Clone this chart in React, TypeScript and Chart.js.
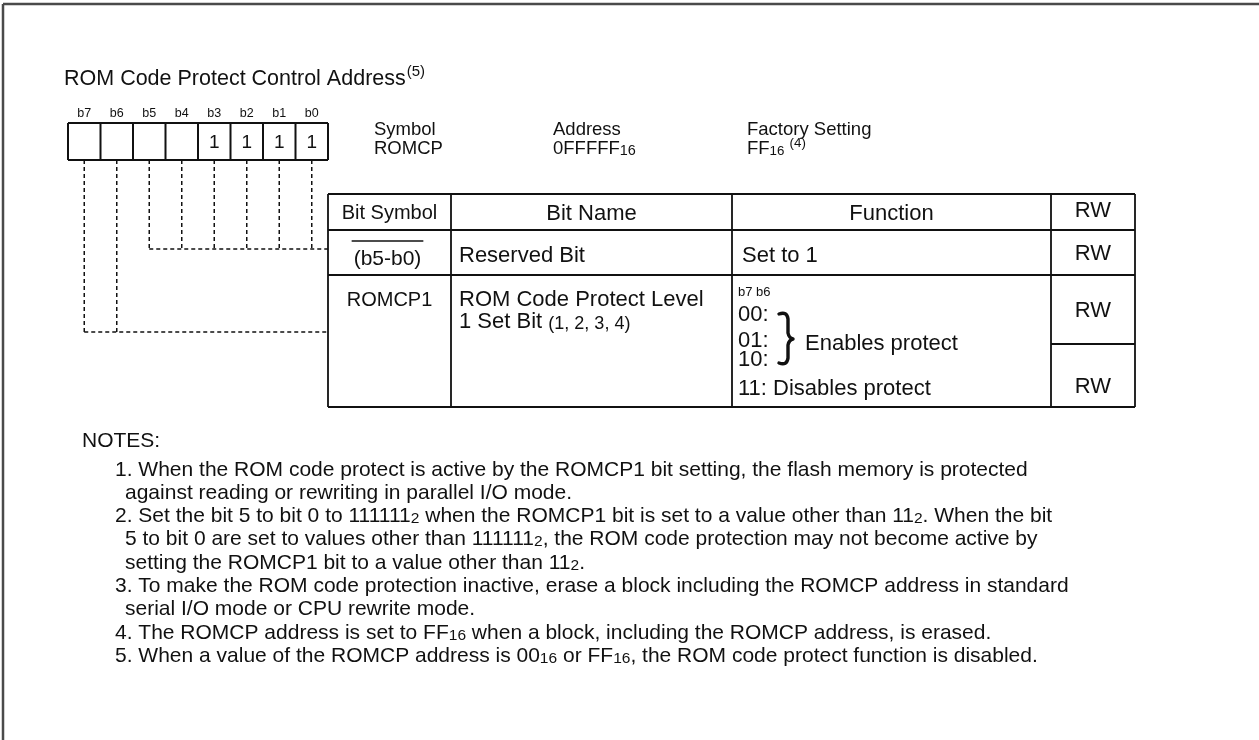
import React, { useEffect, useRef } from "react";
import { Chart, registerables } from "chart.js";

Chart.register(...registerables);

// ---------------- data ----------------
const titleText = "ROM Code Protect Control Address";
const titleNote = "(5)";
const bitLabels = ["b7", "b6", "b5", "b4", "b3", "b2", "b1", "b0"];
const bitValues = ["", "", "", "", "1", "1", "1", "1"];
const infoLabels = ["Symbol", "Address", "Factory Setting"];
const infoValues = ["ROMCP", "0FFFFF_{16}", "FF_{16} ^{(4)}"];
const tableHeaders = ["Bit Symbol", "Bit Name", "Function", "RW"];
const reservedRow = ["(b5-b0)", "Reserved Bit", "Set to 1", "RW"];
const reservedBits = ["b5", "b4", "b3", "b2", "b1", "b0"];
const romcp1Symbol = "ROMCP1";
const romcp1Name = ["ROM Code Protect Level", "1 Set Bit _{(1, 2, 3, 4)}"];
const romcp1Bits = ["b7", "b6"];
const romcp1Header = "b7 b6";
const romcp1Codes = ["00:", "01:", "10:", "11: Disables protect"];
const romcp1Enable = "Enables protect";
const romcp1RW = ["RW", "RW"];
const notesTitle = "NOTES:";
const notes = [
  [
    "1. When the ROM code protect is active by the ROMCP1 bit setting, the flash memory is protected",
    "against reading or rewriting in parallel I/O mode.",
  ],
  [
    "2. Set the bit 5 to bit 0 to 111111_{2} when the ROMCP1 bit is set to a value other than 11_{2}. When the bit",
    "5 to bit 0 are set to values other than 111111_{2}, the ROM code protection may not become active by",
    "setting the ROMCP1 bit to a value other than 11_{2}.",
  ],
  [
    "3. To make the ROM code protection inactive, erase a block including the ROMCP address in standard",
    "serial I/O mode or CPU rewrite mode.",
  ],
  ["4. The ROMCP address is set to FF_{16} when a block, including the ROMCP address, is erased."],
  ["5. When a value of the ROMCP address is 00_{16} or FF_{16}, the ROM code protect function is disabled."],
];

// ---------------- layout ----------------
const W = 1259;
const H = 740;
const FONT = '"Liberation Sans", Arial, sans-serif';
const L = {
  border: { x: 3, y: 4 },
  title: { x: 64, y: 77, size: 21.5, noteSize: 15 },
  box: { x0: 68, x1: 328, y0: 123, y1: 160, labelY: 112, labelSize: 12.5, valueSize: 19 },
  info: { xs: [374, 553, 747], y1: 128, y2: 147, size: 18.5 },
  cols: [328, 451, 732, 1051, 1135],
  rows: [194, 230, 275, 407],
  rwSplit: 344,
  dashY: { reserved: 249, romcp1: 332 },
  textSize: 22,
  symSize: 20,
  notes: { titleX: 82, titleY: 439, x: 115, contX: 125, y0: 468, lh: 23.3, size: 21 },
};

type Seg = [number, number, number, number, string, number, number[]];

function buildSegments(): Seg[] {
  const segs: Seg[] = [];
  const solid = "#111";
  // outer frame
  segs.push([L.border.x, L.border.y, W, L.border.y, "#4a4a4a", 2.5, []]);
  segs.push([L.border.x, L.border.y, L.border.x, H, "#4a4a4a", 2.5, []]);
  // bit box
  const b = L.box;
  const cw = (b.x1 - b.x0) / bitLabels.length;
  segs.push([b.x0, b.y0, b.x1, b.y0, solid, 2, []]);
  segs.push([b.x0, b.y1, b.x1, b.y1, solid, 2, []]);
  for (let i = 0; i <= bitLabels.length; i++) {
    segs.push([b.x0 + i * cw, b.y0, b.x0 + i * cw, b.y1, solid, 2, []]);
  }
  // table
  const c = L.cols;
  const r = L.rows;
  r.forEach((y) => segs.push([c[0], y, c[c.length - 1], y, solid, 1.8, []]));
  c.forEach((x) => segs.push([x, r[0], x, r[r.length - 1], solid, 1.8, []]));
  segs.push([c[3], L.rwSplit, c[4], L.rwSplit, solid, 1.8, []]);
  // dashed connectors
  const cx = (name: string) => b.x0 + (bitLabels.indexOf(name) + 0.5) * cw;
  const dash = [4, 3];
  reservedBits.forEach((n) => segs.push([cx(n), b.y1, cx(n), L.dashY.reserved, solid, 1.5, dash]));
  segs.push([cx(reservedBits[0]), L.dashY.reserved, c[0], L.dashY.reserved, solid, 1.5, dash]);
  romcp1Bits.forEach((n) => segs.push([cx(n), b.y1, cx(n), L.dashY.romcp1, solid, 1.5, dash]));
  segs.push([cx(romcp1Bits[0]), L.dashY.romcp1, c[0], L.dashY.romcp1, solid, 1.5, dash]);
  return segs;
}

// rich text: _{..} smaller at baseline, ^{..} smaller raised
type Piece = { t: string; k: "n" | "s" | "p" };
function parseRich(s: string): Piece[] {
  const out: Piece[] = [];
  const re = /([_^])\{([^}]*)\}/g;
  let last = 0;
  let m: RegExpExecArray | null;
  while ((m = re.exec(s))) {
    if (m.index > last) out.push({ t: s.slice(last, m.index), k: "n" });
    out.push({ t: m[2], k: m[1] === "_" ? "s" : "p" });
    last = re.lastIndex;
  }
  if (last < s.length) out.push({ t: s.slice(last), k: "n" });
  return out;
}

function drawRich(
  ctx: CanvasRenderingContext2D,
  s: string,
  x: number,
  cy: number,
  size: number,
  align: "left" | "center" = "left",
  small = 0.76
) {
  const pieces = parseRich(s);
  const fontFor = (k: string) => `${k === "n" ? size : size * small}px ${FONT}`;
  let total = 0;
  pieces.forEach((p) => {
    ctx.font = fontFor(p.k);
    total += ctx.measureText(p.t).width;
  });
  let px = align === "center" ? x - total / 2 : x;
  const base = cy + size * 0.36;
  ctx.textAlign = "left";
  ctx.textBaseline = "alphabetic";
  pieces.forEach((p) => {
    ctx.font = fontFor(p.k);
    const dy = p.k === "s" ? 1 : p.k === "p" ? -size * 0.38 : 0;
    ctx.fillText(p.t, px, base + dy);
    px += ctx.measureText(p.t).width;
  });
}

const textPlugin = {
  id: "registerText",
  afterDatasetsDraw(chart: any) {
    const ctx: CanvasRenderingContext2D = chart.ctx;
    const sx = (v: number) => chart.scales.x.getPixelForValue(v);
    const sy = (v: number) => chart.scales.y.getPixelForValue(v);
    ctx.save();
    ctx.fillStyle = "#111";
    // title
    ctx.font = `${L.title.size}px ${FONT}`;
    const tw = ctx.measureText(titleText).width;
    drawRich(ctx, titleText, sx(L.title.x), sy(L.title.y), L.title.size);
    ctx.font = `${L.title.noteSize}px ${FONT}`;
    ctx.textBaseline = "alphabetic";
    ctx.fillText(titleNote, sx(L.title.x) + tw + 1, sy(L.title.y) + L.title.size * 0.36 - L.title.size * 0.42);

    // bit labels & values
    const b = L.box;
    const cw = (b.x1 - b.x0) / bitLabels.length;
    bitLabels.forEach((lab, i) => {
      const cx = sx(b.x0 + (i + 0.5) * cw);
      drawRich(ctx, lab, cx, sy(b.labelY), b.labelSize, "center");
      if (bitValues[i]) drawRich(ctx, bitValues[i], cx, sy((b.y0 + b.y1) / 2), b.valueSize, "center");
    });

    // info
    infoLabels.forEach((lab, i) => {
      drawRich(ctx, lab, sx(L.info.xs[i]), sy(L.info.y1), L.info.size);
      drawRich(ctx, infoValues[i], sx(L.info.xs[i]), sy(L.info.y2), L.info.size, "left", i === 2 ? 0.72 : 0.78);
    });

    // table header
    const c = L.cols;
    const r = L.rows;
    const ts = L.textSize;
    const ss = L.symSize;
    tableHeaders.forEach((h, i) => {
      drawRich(ctx, h, sx((c[i] + c[i + 1]) / 2), sy(i === 3 ? 209 : 212), i === 0 ? ss : ts, "center");
    });
    // reserved row
    const r1y = 254;
    const symX = (c[0] + c[1]) / 2 - 2;
    drawRich(ctx, reservedRow[0], sx(symX), sy(257), ss + 1, "center");
    ctx.font = `${ss + 1}px ${FONT}`;
    const ow = ctx.measureText(reservedRow[0]).width;
    ctx.strokeStyle = "#111";
    ctx.lineWidth = 1.4;
    ctx.beginPath();
    ctx.moveTo(sx(symX - ow / 2 - 2), sy(241));
    ctx.lineTo(sx(symX + ow / 2 + 2), sy(241));
    ctx.stroke();
    drawRich(ctx, reservedRow[1], sx(c[1] + 8), sy(r1y), ts);
    drawRich(ctx, reservedRow[2], sx(c[2] + 10), sy(r1y), ts);
    drawRich(ctx, reservedRow[3], sx((c[3] + c[4]) / 2), sy(r1y - 2), ts, "center");

    // ROMCP1 row
    drawRich(ctx, romcp1Symbol, sx((c[0] + c[1]) / 2), sy(299), ss, "center");
    const nameY = [298, 320];
    romcp1Name.forEach((t, i) => drawRich(ctx, t, sx(c[1] + 8), sy(nameY[i]), ts, "left", 0.82));
    const fx = c[2] + 6;
    drawRich(ctx, romcp1Header, sx(fx), sy(291), 13);
    const codeY = [313, 339, 358, 387];
    romcp1Codes.forEach((t, i) => drawRich(ctx, t, sx(fx), sy(codeY[i]), ts));
    drawRich(ctx, romcp1Enable, sx(805), sy(342), ts);
    // brace
    const bx = sx(788);
    const t0 = sy(313);
    const t1 = sy(364);
    const mid = sy(339);
    ctx.lineWidth = 3.4;
    ctx.lineCap = "round";
    ctx.lineJoin = "round";
    ctx.beginPath();
    ctx.moveTo(bx - 9, t0 + 1);
    ctx.quadraticCurveTo(bx - 1, t0 - 2, bx, t0 + 6);
    ctx.lineTo(bx, mid - 6);
    ctx.quadraticCurveTo(bx + 1, mid - 1, bx + 5, mid);
    ctx.quadraticCurveTo(bx + 1, mid + 1, bx, mid + 6);
    ctx.lineTo(bx, t1 - 6);
    ctx.quadraticCurveTo(bx - 1, t1 + 2, bx - 9, t1 - 1);
    ctx.stroke();
    // RW cells
    drawRich(ctx, romcp1RW[0], sx((c[3] + c[4]) / 2), sy(309), ts, "center");
    drawRich(ctx, romcp1RW[1], sx((c[3] + c[4]) / 2), sy(385), ts, "center");

    // notes
    const n = L.notes;
    drawRich(ctx, notesTitle, sx(n.titleX), sy(n.titleY), n.size);
    let line = 0;
    notes.forEach((group) => {
      group.forEach((t, j) => {
        drawRich(ctx, t, sx(j === 0 ? n.x : n.contX), sy(n.y0 + line * n.lh), n.size, "left", 0.74);
        line++;
      });
    });
    ctx.restore();
  },
};

export default function App() {
  const ref = useRef<HTMLCanvasElement | null>(null);
  useEffect(() => {
    document.body.style.margin = "0";
    if (!ref.current) return;
    const segs = buildSegments();
    const chart = new Chart(ref.current, {
      type: "scatter",
      data: {
        datasets: segs.map((s) => ({
          data: [
            { x: s[0], y: s[1] },
            { x: s[2], y: s[3] },
          ],
          showLine: true,
          borderColor: s[4],
          borderWidth: s[5],
          borderDash: s[6],
          pointRadius: 0,
          pointHoverRadius: 0,
          fill: false,
          clip: false,
        })),
      },
      options: {
        animation: false,
        responsive: false,
        devicePixelRatio: 1,
        layout: { padding: 0 },
        events: [],
        plugins: { legend: { display: false }, tooltip: { enabled: false } },
        scales: {
          x: { type: "linear", min: 0, max: W, display: false },
          y: { type: "linear", min: 0, max: H, reverse: true, display: false },
        },
      },
      plugins: [textPlugin],
    } as any);
    return () => chart.destroy();
  }, []);
  return (
    <div style={{ position: "absolute", left: 0, top: 0, width: W, height: H, background: "#fff" }}>
      <canvas ref={ref} width={W} height={H} style={{ width: W, height: H, display: "block" }} />
    </div>
  );
}
